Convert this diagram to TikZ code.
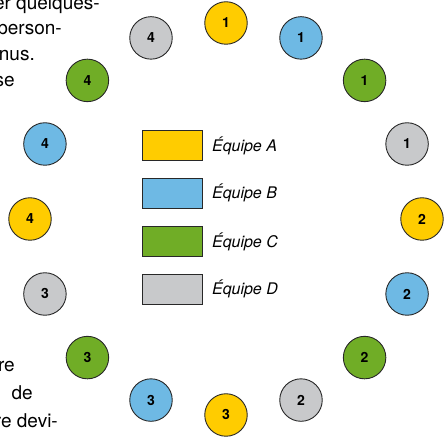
\documentclass[tikz,border=0pt]{standalone}
\usepackage{fontspec}
\setmainfont{TeX Gyre Heros}
\definecolor{teamc0}{RGB}{255,204,0}
\definecolor{teamc1}{RGB}{110,185,228}
\definecolor{teamc2}{RGB}{112,173,38}
\definecolor{teamc3}{RGB}{200,201,203}
\definecolor{edgec}{RGB}{40,40,40}
\tikzset{
  player/.style={circle, draw=edgec, line width=0.9pt, minimum size=42.5pt, inner sep=0pt,
    font=\bfseries\fontsize{14}{14}\selectfont},
  legendbox/.style={draw=edgec, line width=0.9pt, minimum width=60pt, minimum height=30pt, inner sep=0pt},
  legendtext/.style={anchor=west, inner sep=0pt, font=\itshape\fontsize{16}{16}\selectfont},
  cuttext/.style={anchor=base east, inner sep=0pt, font=\fontsize{19}{19}\selectfont}
}
\begin{document}
\begin{tikzpicture}[x=1pt,y=1pt]
\useasboundingbox (0,0) rectangle (448,438);
% ring of players
\foreach \k in {0,...,15} {
  \pgfmathtruncatemacro\num{int(\k/4)+1}
  \pgfmathtruncatemacro\tm{mod(\k,4)}
  \pgfmathsetmacro\px{226+196*cos(90-22.5*\k)}
  \pgfmathsetmacro\py{219+196*sin(90-22.5*\k)}
  \node[player, fill=teamc\tm] (c\k) at (\px,\py) {\num};
}
% legend
\node[legendbox, fill=teamc0] (boxa) at (172.5,292.5) {};
\node[legendbox, fill=teamc1] (boxb) at (172.5,245) {};
\node[legendbox, fill=teamc2] (boxc) at (172.5,196.5) {};
\node[legendbox, fill=teamc3] (boxd) at (172.5,149) {};
\node[legendtext] (la) at ([xshift=9pt]boxa.east) {Équipe A};
\node[legendtext] (lb) at ([xshift=9pt]boxb.east) {Équipe B};
\node[legendtext] (lc) at ([xshift=9pt]boxc.east) {Équipe C};
\node[legendtext] (ld) at ([xshift=9pt]boxd.east) {Équipe D};
% clipped paragraph text on the left
\node[cuttext] (t1) at (100,428) {er quelques-};
\node[cuttext] (t2) at (62,403) {person-};
\node[cuttext] (t3) at (35,377) {nus.};
\node[cuttext] (t4) at (15,351) {se};
\node[cuttext] (t5) at (15,66) {re};
\node[cuttext] (t6) at (33,38) {de};
\node[cuttext] (t7) at (58,10) {re devi-};
\end{tikzpicture}
\end{document}
